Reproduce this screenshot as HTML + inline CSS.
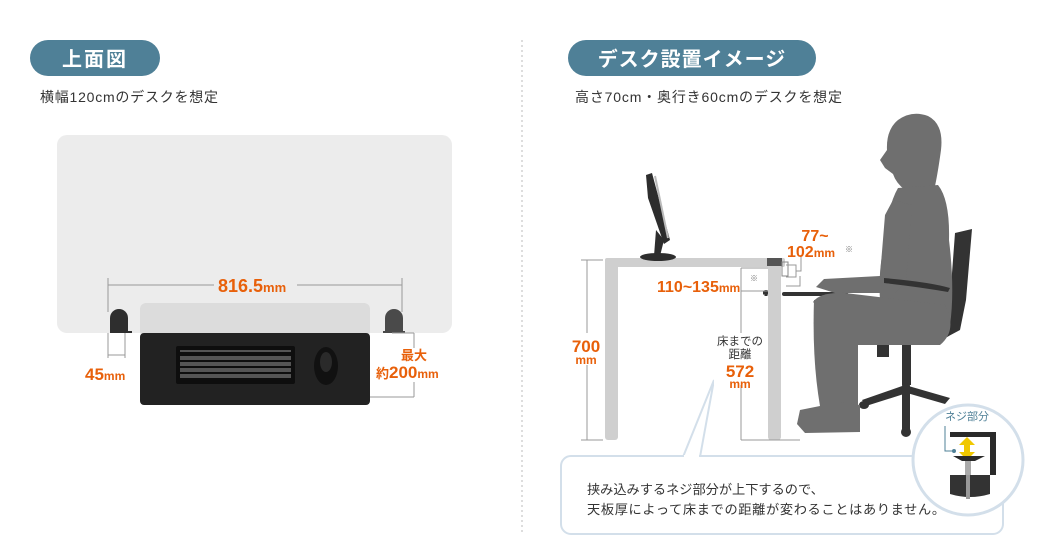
<!DOCTYPE html>
<html><head><meta charset="utf-8"><style>
body{margin:0;background:#fff;}
svg{display:block;font-family:"Liberation Sans","Noto Sans CJK JP",sans-serif;}
.o{fill:#e8600a;font-weight:bold;}
</style></head><body>
<svg width="1045" height="537" viewBox="0 0 1045 537" xmlns="http://www.w3.org/2000/svg">
<rect x="30" y="40" width="130" height="36" rx="18" fill="#4f8097"/>
<text x="95" y="66" text-anchor="middle" font-size="20" font-weight="bold" fill="#fff" letter-spacing="2">上面図</text>
<text x="40" y="102" font-size="14" fill="#333" textLength="178">横幅120cmのデスクを想定</text>

<rect x="57" y="135" width="395" height="198" rx="10" fill="#ececec"/>
<line x1="108" y1="278" x2="108" y2="312" stroke="#999"/>
<line x1="402" y1="278" x2="402" y2="312" stroke="#999"/>
<line x1="108" y1="285" x2="214" y2="285" stroke="#999"/>
<line x1="297" y1="285" x2="402" y2="285" stroke="#999"/>
<text x="218" y="292" class="o" font-size="18">816.5<tspan font-size="13">mm</tspan></text>
<path d="M110 333 V318 a9 9 0 0 1 18 0 V333 Z" fill="#2e2e2e"/>
<rect x="110" y="331" width="22" height="2" fill="#2e2e2e"/>
<path d="M385 333 V318 a9 9 0 0 1 18 0 V333 Z" fill="#4a4a4a"/>
<rect x="383" y="331" width="22" height="2" fill="#4a4a4a"/>
<rect x="140" y="303" width="230" height="34" rx="6" fill="#dcdcdc"/>
<rect x="140" y="333" width="230" height="72" rx="4" fill="#222"/>
<rect x="176" y="346" width="119" height="38" rx="2" fill="#0e0e0e"/>
<g fill="#555">
<rect x="180" y="350" width="111" height="2"/><rect x="180" y="356" width="111" height="4"/><rect x="180" y="362" width="111" height="4"/><rect x="180" y="368" width="111" height="4"/><rect x="180" y="374" width="111" height="4"/>
</g>
<ellipse cx="326" cy="366" rx="12" ry="19" fill="#111"/>
<ellipse cx="326" cy="362" rx="6" ry="10" fill="#2a2a2a"/>
<line x1="108" y1="333" x2="108" y2="358" stroke="#999"/>
<line x1="125" y1="333" x2="125" y2="358" stroke="#999"/>
<line x1="108" y1="355" x2="125" y2="355" stroke="#999"/>
<text x="85" y="380" class="o" font-size="17">45<tspan font-size="12">mm</tspan></text>
<line x1="392" y1="333" x2="414" y2="333" stroke="#999"/>
<line x1="414" y1="333" x2="414" y2="348" stroke="#999"/>
<line x1="414" y1="382" x2="414" y2="397" stroke="#999"/>
<line x1="370" y1="397" x2="414" y2="397" stroke="#999"/>
<text x="414" y="360" text-anchor="middle" class="o" font-size="13">最大</text>
<text x="376" y="378" class="o" font-size="13">約<tspan font-size="17">200</tspan><tspan font-size="12">mm</tspan></text>

<line x1="522" y1="40" x2="522" y2="532" stroke="#bbb" stroke-dasharray="2 3"/>

<rect x="568" y="40" width="248" height="36" rx="18" fill="#4f8097"/>
<text x="692" y="66" text-anchor="middle" font-size="20" font-weight="bold" fill="#fff" letter-spacing="1">デスク設置イメージ</text>
<text x="575" y="102" font-size="14" fill="#333" textLength="267">高さ70cm・奥行き60cmのデスクを想定</text>

<path d="M683 457 L714 380 L700 457" fill="#fff" stroke="#d3dfea" stroke-width="2"/>
<rect x="561" y="456" width="442" height="78" rx="10" fill="#fff" stroke="#d3dfea" stroke-width="2"/>
<rect x="684" y="455" width="15" height="4" fill="#fff"/>
<text x="587" y="494" font-size="13.2" fill="#333">挟み込みするネジ部分が上下するので、</text>
<text x="587" y="514" font-size="13.2" fill="#333" textLength="358">天板厚によって床までの距離が変わることはありません。</text>

<rect x="605" y="258" width="180" height="9" rx="2" fill="#cfcfcf"/>
<rect x="605" y="258" width="13" height="182" rx="3" fill="#cfcfcf"/>
<rect x="768" y="258" width="13" height="182" rx="3" fill="#cfcfcf"/>
<rect x="767" y="258" width="15" height="8" fill="#555"/>
<rect x="782" y="262" width="6" height="14" fill="none" stroke="#888"/>
<path d="M763 293 h5 M766 290 v6" stroke="#333" stroke-width="3"/>
<rect x="782" y="292" width="66" height="4" rx="2" fill="#333"/>
<path d="M646 175 L652 173 L670 240 L664 244 L648 198 Z" fill="#2d2d2d"/>
<line x1="655" y1="176" x2="668" y2="238" stroke="#bbb" stroke-width="2"/>
<path d="M656 230 L664 240 L660 256 L654 256 Z" fill="#2d2d2d"/>
<ellipse cx="658" cy="257" rx="18" ry="4" fill="#2d2d2d"/>
<line x1="587" y1="260" x2="587" y2="440" stroke="#999"/>
<line x1="581" y1="260" x2="603" y2="260" stroke="#999"/>
<line x1="581" y1="440" x2="603" y2="440" stroke="#999"/>
<rect x="570" y="333" width="34" height="32" fill="#fff"/>
<text x="586" y="352" text-anchor="middle" class="o" font-size="17">700</text>
<text x="586" y="364" text-anchor="middle" class="o" font-size="12">mm</text>
<line x1="741" y1="268" x2="741" y2="440" stroke="#999"/>
<line x1="741" y1="268" x2="768" y2="268" stroke="#999"/>
<line x1="741" y1="291" x2="768" y2="291" stroke="#999"/>
<line x1="741" y1="440" x2="800" y2="440" stroke="#999"/>
<text x="657" y="292" class="o" font-size="16">110~135<tspan font-size="12">mm</tspan></text>
<text x="750" y="281" font-size="8" fill="#777">※</text>
<rect x="714" y="333" width="50" height="52" fill="#fff"/>
<text x="740" y="345" text-anchor="middle" font-size="11.5" fill="#333">床までの</text>
<text x="740" y="358" text-anchor="middle" font-size="11.5" fill="#333">距離</text>
<text x="740" y="377" text-anchor="middle" class="o" font-size="17">572</text>
<text x="740" y="388" text-anchor="middle" class="o" font-size="12">mm</text>
<path d="M786 265 h10 v12 h-10 M796 271 h5 v-15 M786 286 h14 v-10" fill="none" stroke="#999"/>
<text x="815" y="241" text-anchor="middle" class="o" font-size="16">77~</text>
<text x="787" y="257" class="o" font-size="16">102<tspan font-size="12">mm</tspan></text>
<text x="845" y="252" font-size="8" fill="#777">※</text>

<g fill="#333">
<path d="M955 233 L972 229 L966 300 L960 330 L945 338 L940 328 L950 300 Z"/>
<rect x="853" y="327" width="97" height="10" rx="4"/>
<rect x="877" y="335" width="12" height="22"/>
<rect x="902" y="337" width="9" height="48"/>
<path d="M862 400 L905 385 L950 398 L945 404 L907 393 L866 406 Z"/>
<rect x="902" y="383" width="8" height="50" rx="3"/>
<ellipse cx="906" cy="432" rx="5" ry="5"/>
<ellipse cx="864" cy="405" rx="5" ry="4"/>
</g>
<g fill="#6f6f6f">
<path d="M880 160 L887 150 Q886 130 898 120 Q912 110 928 116 Q944 124 941 150 Q938 172 935 186 L905 190 Q896 183 893 174 L885 168 Z"/>
<path d="M898 188 L938 185 Q950 200 949 240 Q955 290 950 325 L880 335 L880 300 Q878 270 885 240 Q888 205 898 188 Z"/>
<path d="M893 200 L912 205 L906 282 L895 293 L835 293 L816 287 L824 279 L880 276 L885 215 Z"/>
<path d="M813 302 Q820 292 845 293 L945 305 Q958 330 940 345 L858 345 Z"/>
<path d="M814 300 L858 300 L858 406 L820 406 Q812 360 814 300 Z"/>
<path d="M800 410 L840 402 L860 405 L860 432 L805 433 L797 424 Z"/>
</g>
<path d="M884 278 Q930 282 950 288 L948 292 Q920 287 884 283 Z" fill="#333"/>
<circle cx="968" cy="460" r="55" fill="#fff" stroke="#d3dfea" stroke-width="3"/>
<text x="967" y="420" text-anchor="middle" font-size="11" fill="#4f8097">ネジ部分</text>
<path d="M945 426 V451 H954" fill="none" stroke="#4f8097"/>
<circle cx="954" cy="451" r="2" fill="#4f8097"/>
<path d="M950 432 H996 V475 H990 V437 H950 Z" fill="#2a2a2a"/>
<path d="M967 437 L975 445 H970 V452 H975 L967 460 L959 452 H964 V445 H959 Z" fill="#f0c800"/>
<path d="M953 456 H985 L975 461 H962 Z" fill="#2a2a2a"/>
<rect x="965" y="461" width="6" height="35" fill="#aaa"/>
<path d="M950 475 H990 V494 Q970 500 950 494 Z" fill="#333"/>
<rect x="966" y="475" width="4" height="24" fill="#999"/>
</svg>
</body></html>
